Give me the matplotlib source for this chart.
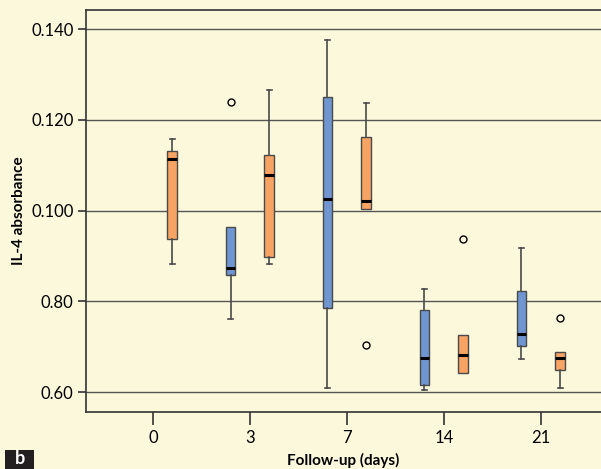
import matplotlib.pyplot as plt
from matplotlib.patches import Rectangle

# follow-up days and the two groups (blue / orange)
days = ['0', '3', '7', '14', '21']
ytick_vals = [0.06, 0.08, 0.10, 0.12, 0.14]
ytick_labels = ['0.60', '0.80', '0.100', '0.120', '0.140']

# per box: whisker low, box low (q1), median, box high (q3), whisker high
blue_days = [1, 2, 3, 4]
blue_wlo = [0.0761, 0.0609, 0.0604, 0.0672]
blue_q1 = [0.0859, 0.0785, 0.0615, 0.0701]
blue_med = [0.0873, 0.1026, 0.0676, 0.0727]
blue_q3 = [0.0963, 0.1250, 0.0780, 0.0823]
blue_whi = [0.0963, 0.1376, 0.0828, 0.0918]
blue_fliers = [[0.1240], [], [], []]

orange_days = [0, 1, 2, 3, 4]
orange_wlo = [0.0883, 0.0882, 0.1004, 0.0641, 0.0609]
orange_q1 = [0.0938, 0.0897, 0.1004, 0.0641, 0.0648]
orange_med = [0.1114, 0.1079, 0.1020, 0.0682, 0.0675]
orange_q3 = [0.1131, 0.1122, 0.1163, 0.0725, 0.0688]
orange_whi = [0.1158, 0.1266, 0.1236, 0.0725, 0.0688]
orange_fliers = [[], [], [0.0704], [0.0938], [0.0763]]

bg = '#fbf8dc'
blue = '#7096d2'
orange = '#f7a363'
edge = '#4a4a4a'

plt.rcParams['font.family'] = ['Lato', 'DejaVu Sans']

fig = plt.figure(figsize=(6.01, 4.69), dpi=100, facecolor=bg)
ax = fig.add_axes([86 / 601, 57 / 469, 515 / 601, 402 / 469])
ax.set_facecolor(bg)


def make_stats(wlo, q1, med, q3, whi, fl):
    return [dict(whislo=a, q1=b, med=c, q3=d, whishi=e, fliers=f)
            for a, b, c, d, e, f in zip(wlo, q1, med, q3, whi, fl)]


box_kw = dict(widths=0.1, patch_artist=True, showcaps=True,
              whiskerprops=dict(color=edge, lw=1.2),
              capprops=dict(color=edge, lw=1.2),
              medianprops=dict(color='black', lw=2.2),
              flierprops=dict(marker='o', markerfacecolor='none',
                              markeredgecolor='black', markersize=5, mew=1))


def draw_group(pos, wlo, q1, med, q3, whi, fl, color):
    b = ax.bxp(make_stats(wlo, q1, med, q3, whi, fl), positions=pos, **box_kw)
    for p in b['boxes']:
        p.set_facecolor(color)
        p.set_edgecolor(edge)
    # short caps, and none where the whisker has no length
    for i, c in enumerate(b['caps']):
        x0, x1 = c.get_xdata()
        m = (x0 + x1) / 2
        c.set_xdata([m - 0.025, m + 0.025])
        k = i // 2
        if (i % 2 == 0 and wlo[k] == q1[k]) or (i % 2 == 1 and whi[k] == q3[k]):
            c.set_visible(False)
    return b


draw_group([d - 0.2 for d in blue_days], blue_wlo, blue_q1, blue_med,
           blue_q3, blue_whi, blue_fliers, blue)
draw_group([d + 0.2 for d in orange_days], orange_wlo, orange_q1, orange_med,
           orange_q3, orange_whi, orange_fliers, orange)

ax.set_xlim(-0.69, 4.62)
ax.set_ylim(0.0556, 0.1442)
ax.set_xticks(range(len(days)))
ax.set_xticklabels(days)
ax.set_yticks(ytick_vals)
ax.set_yticklabels(ytick_labels)
ax.yaxis.grid(True, color='#555555', lw=1)
ax.set_axisbelow(True)

for s in ['left', 'bottom', 'top']:
    ax.spines[s].set_color('#333333')
    ax.spines[s].set_linewidth(1.2)
ax.spines['right'].set_visible(False)
ax.tick_params(axis='x', length=9, width=1.2, color='#333333', labelsize=12, pad=4)
ax.tick_params(axis='y', length=6, width=1.2, color='#333333', labelsize=12, pad=3)

ax.set_xlabel('Follow-up (days)', fontsize=11, fontweight='bold', labelpad=5)
ax.set_ylabel('IL-4 absorbance', fontsize=11, fontweight='bold', labelpad=4)

# panel letter in a dark box at the bottom edge
fig.patches.append(Rectangle((5 / 601, 0), 29 / 601, 19 / 469,
                             transform=fig.transFigure, fc='#231f20', ec='none'))
fig.text(20 / 601, 2 / 469, 'b', fontsize=13, fontweight='bold', color='white',
         ha='center', va='bottom')

fig.savefig('out.png', dpi=100, facecolor=bg)
